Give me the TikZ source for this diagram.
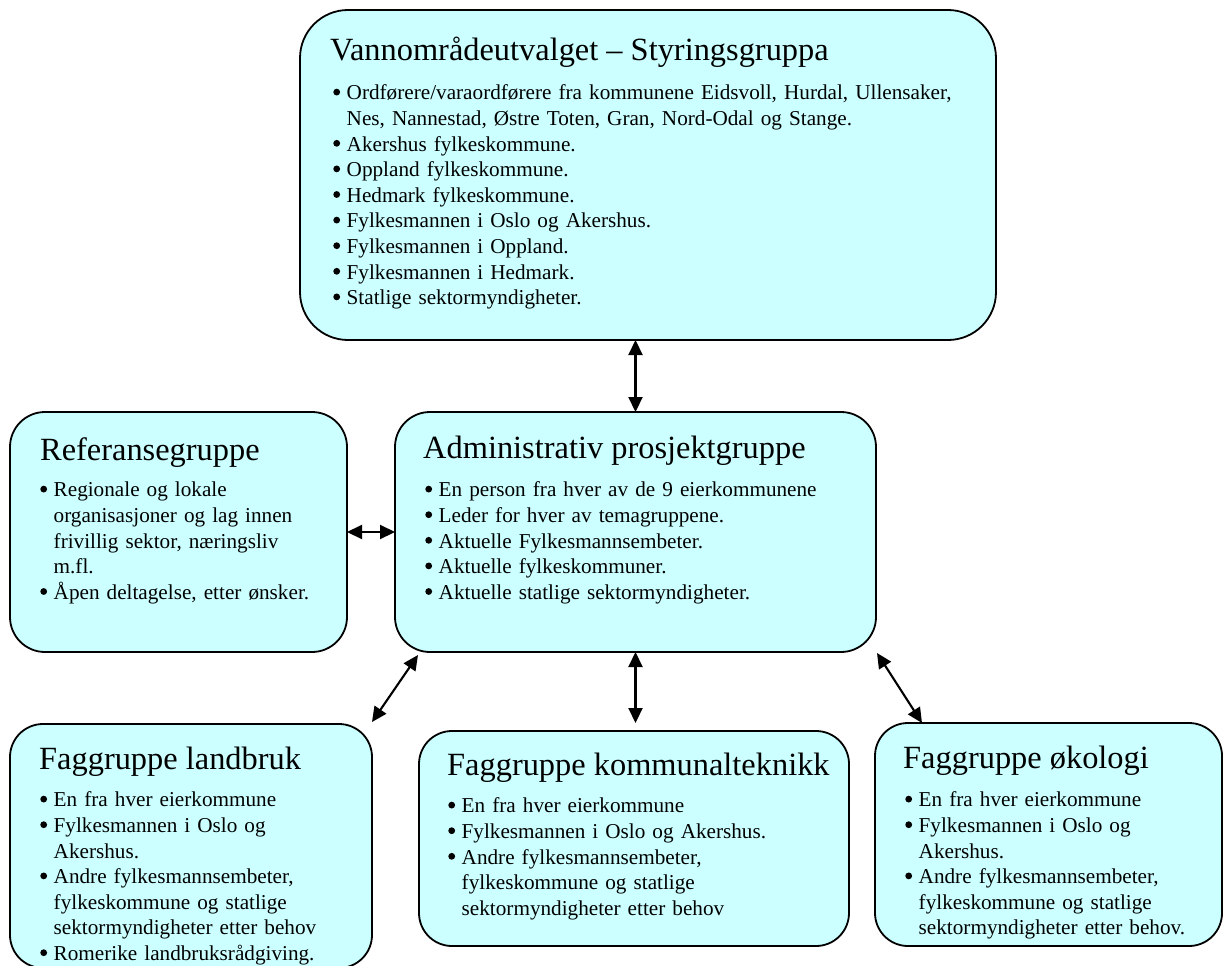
\documentclass[tikz,border=0pt]{standalone}
\usepackage{fontspec}
\setmainfont{Liberation Serif}
\usetikzlibrary{arrows.meta}
\definecolor{boxfill}{HTML}{CCFFFF}
\newcommand\bdot{\tikz[baseline={(0pt,0pt)}]{\path (0pt,0pt) (8pt,0pt); \fill[black] (4.5pt,7.7pt) circle[radius=3.4pt];}}
\newcommand\bul{\par\parskip=0pt\relax\hangindent=14.5pt\hangafter=1\noindent\rule{0pt}{16pt}\makebox[14.5pt][l]{\bdot}}
\tikzset{
  grp/.style={draw=black, line width=1.8pt, fill=boxfill, rounded corners=#1, inner sep=0pt, outer sep=0pt},
  ttl/.style={anchor=base west, inner sep=0pt, font=\fontsize{32.4}{36}\selectfont},
  body/.style={anchor=north west, inner sep=0pt, text width=#1, align=left, font=\fontsize{21.2}{25.6}\selectfont},
  arr/.style={line width=2.1pt, {Triangle[length=15pt,width=14pt]}-{Triangle[length=15pt,width=14pt]}}
}
\begin{document}
\begin{tikzpicture}[x=1pt,y=-1pt]
\useasboundingbox (0,0) rectangle (1226,966);
% boxes
\node[grp=48pt, minimum width=696pt, minimum height=330pt] (top) at (648,175) {};
\node[grp=35pt, minimum width=337pt, minimum height=240pt] (ref) at (178.5,532) {};
\node[grp=35pt, minimum width=481pt, minimum height=240pt] (adm) at (635.5,532) {};
\node[grp=33pt, minimum width=362pt, minimum height=244pt] (land) at (191,846) {};
\node[grp=33pt, minimum width=430pt, minimum height=215pt] (kom) at (634,838.5) {};
\node[grp=33pt, minimum width=347pt, minimum height=223pt] (oko) at (1048.5,834.5) {};
% texts
\node[ttl] (topT) at (330,61) {Vannområdeutvalget – Styringsgruppa};
\node[body=660pt] (topB) at (332,74) {%
\bul Ordførere/varaordførere fra kommunene Eidsvoll, Hurdal, Ullensaker,\newline Nes, Nannestad, Østre Toten, Gran, Nord-Odal og Stange.
\bul Akershus fylkeskommune.
\bul Oppland fylkeskommune.
\bul Hedmark fylkeskommune.
\bul Fylkesmannen i Oslo og Akershus.
\bul Fylkesmannen i Oppland.
\bul Fylkesmannen i Hedmark.
\bul Statlige sektormyndigheter.\par};
\node[ttl] (refT) at (40,460) {Referansegruppe};
\node[body=300pt] (refB) at (39,471) {%
\bul Regionale og lokale\newline organisasjoner og lag innen\newline frivillig sektor, næringsliv\newline m.fl.
\bul Åpen deltagelse, etter ønsker.\par};
\node[ttl] (admT) at (423,458) {Administrativ prosjektgruppe};
\node[body=440pt] (admB) at (424,471) {%
\bul En person fra hver av de 9 eierkommunene
\bul Leder for hver av temagruppene.
\bul Aktuelle Fylkesmannsembeter.
\bul Aktuelle fylkeskommuner.
\bul Aktuelle statlige sektormyndigheter.\par};
\node[ttl] (landT) at (39,769) {Faggruppe landbruk};
\node[body=325pt] (landB) at (39,781) {%
\bul En fra hver eierkommune
\bul Fylkesmannen i Oslo og\newline Akershus.
\bul Andre fylkesmannsembeter,\newline fylkeskommune og statlige\newline sektormyndigheter etter behov
\bul Romerike landbruksrådgiving.\par};
\node[ttl] (komT) at (447,775) {Faggruppe kommunalteknikk};
\node[body=390pt] (komB) at (447,787) {%
\bul En fra hver eierkommune
\bul Fylkesmannen i Oslo og Akershus.
\bul Andre fylkesmannsembeter,\newline fylkeskommune og statlige\newline sektormyndigheter etter behov\par};
\node[ttl] (okoT) at (903,768) {Faggruppe økologi};
\node[body=315pt] (okoB) at (904,781) {%
\bul En fra hver eierkommune
\bul Fylkesmannen i Oslo og\newline Akershus.
\bul Andre fylkesmannsembeter,\newline fylkeskommune og statlige\newline sektormyndigheter etter behov.\par};
% connectors
\draw[arr] (adm.north |- top.south) -- (adm.north);
\draw[arr] (ref.east) -- (adm.west);
\draw[arr] ([xshift=23pt,yshift=-3pt]adm.south west) -- ([yshift=2pt]land.north east);
\draw[arr] (adm.south) -- ([yshift=8pt]kom.north -| adm.south);
\draw[arr] ([xshift=1pt,yshift=-1pt]adm.south east) -- ([xshift=47pt]oko.north west);
\end{tikzpicture}
\end{document}
